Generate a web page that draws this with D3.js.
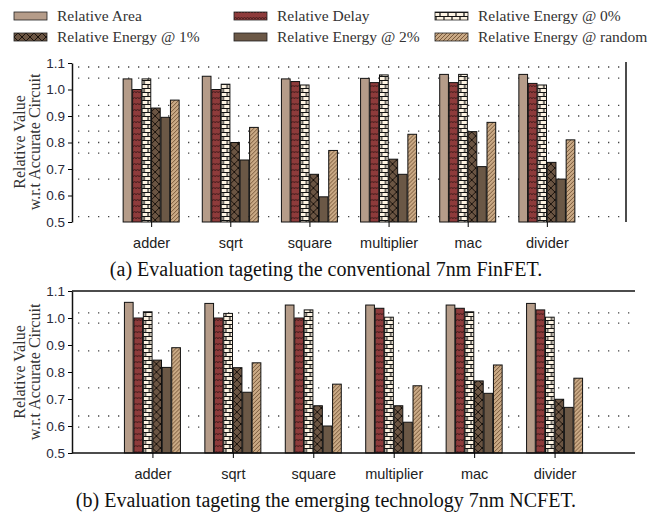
<!DOCTYPE html>
<html>
<head>
<meta charset="utf-8">
<script src="https://cdn.jsdelivr.net/npm/d3@7"></script>
<style>
  body { margin: 0; background: #fff; }
  svg { display: block; }
</style>
</head>
<body>
<svg width="657" height="518"></svg>
<script>
/* global d3 */

var categories = ["adder", "sqrt", "square", "multiplier", "mac", "divider"];
var seriesNames = ["Relative Area", "Relative Delay", "Relative Energy @ 0%",
  "Relative Energy @ 1%", "Relative Energy @ 2%", "Relative Energy @ random"];
var yTicks = [0.5, 0.6, 0.7, 0.8, 0.9, 1.0, 1.1];

// (a) FinFET, one array per category, in series order
var finfetValues = [
  [1.04, 1.00, 1.04, 0.93, 0.895, 0.96],
  [1.05, 1.00, 1.02, 0.80, 0.734, 0.857],
  [1.04, 1.03, 1.017, 0.68, 0.595, 0.77],
  [1.042, 1.026, 1.055, 0.737, 0.68, 0.831],
  [1.057, 1.026, 1.057, 0.841, 0.709, 0.876],
  [1.057, 1.023, 1.017, 0.725, 0.662, 0.81]
];
// (b) NCFET
var ncfetValues = [
  [1.058, 1.00, 1.023, 0.844, 0.817, 0.89],
  [1.054, 1.00, 1.017, 0.816, 0.725, 0.834],
  [1.048, 1.00, 1.03, 0.675, 0.60, 0.755],
  [1.048, 1.036, 1.003, 0.675, 0.614, 0.749],
  [1.048, 1.036, 1.023, 0.767, 0.721, 0.826],
  [1.054, 1.03, 1.003, 0.699, 0.669, 0.777]
];
var finfetDots = [1.085, 1.043, 0.94, 0.9, 0.843, 0.8, 0.76, 0.662, 0.52];
var ncfetDots = [1.019, 0.981, 0.878, 0.741, 0.637, 0.596];

var fills = ["#b59c89", "url(#pDelay)", "url(#pE0)", "url(#pE1)", "#6b5846", "url(#pRand)"];

var svg = d3.select("svg");
var defs = svg.append("defs");

function pat(id, w, h, bg) {
  var p = defs.append("pattern").attr("id", id).attr("patternUnits", "userSpaceOnUse")
    .attr("width", w).attr("height", h);
  p.append("rect").attr("width", w).attr("height", h).attr("fill", bg);
  return p;
}
var pd = pat("pDelay", 6, 6, "#8e3b3b");
pd.append("path").attr("d", "M0,3 L1.5,1 L3,3 L4.5,1 L6,3").attr("stroke", "#4a1e1e").attr("fill", "none").attr("stroke-width", 1);
var p0 = pat("pE0", 8, 8, "#fdf3e2");
p0.append("path").attr("d", "M0,0.5 H8 M0,4.5 H8 M1,0 V4 M5,4 V8").attr("stroke", "#111").attr("stroke-width", 1.2).attr("fill", "none");
var p1 = pat("pE1", 8, 8, "#6b5543");
p1.append("path").attr("d", "M0,0 L8,8 M8,0 L0,8").attr("stroke", "#1a120c").attr("stroke-width", 1).attr("fill", "none");
var pr = pat("pRand", 4, 4, "#c9a985");
pr.append("path").attr("d", "M-1,5 L5,-1 M-1,1 L1,-1 M3,5 L5,3").attr("stroke", "#7a5a3c").attr("stroke-width", 1).attr("fill", "none");

// legend
var legendPos = [[14, 16], [234, 16], [435, 16], [14, 37], [234, 37], [435, 37]];
var leg = svg.append("g").selectAll("g").data(seriesNames).enter().append("g")
  .attr("transform", function(d, i) { return "translate(" + legendPos[i][0] + "," + legendPos[i][1] + ")"; });
leg.append("rect").attr("x", 0).attr("y", -4).attr("width", 33).attr("height", 8)
  .attr("fill", function(d, i) { return fills[i]; }).attr("stroke", "#222").attr("stroke-width", 0.8);
leg.append("text").attr("x", 43).attr("y", 5).text(function(d) { return d; })
  .attr("font-family", "Liberation Serif").attr("font-size", 15.5).attr("fill", "#333");

function drawPanel(values, dots, top, bottom, left, right, framed, caption, labelY, captionY) {
  var g = svg.append("g");
  var w = right - left;
  var y = d3.scaleLinear().domain([0.5, 1.1]).range([bottom, top]);
  var x = d3.scalePoint().domain(categories).range([left + w / 7, left + 6 * w / 7]);
  var xs = d3.scaleBand().domain(d3.range(seriesNames.length)).range([-28, 28]).paddingInner(0.08);

  // dotted grid
  g.append("g").selectAll("line").data(dots).enter().append("line")
    .attr("x1", left + 6).attr("x2", right - 4)
    .attr("y1", function(d) { return y(d); }).attr("y2", function(d) { return y(d); })
    .attr("stroke", "#444").attr("stroke-width", 1.3).attr("stroke-dasharray", "1.3,8.7");

  // bars
  var groups = g.append("g").selectAll("g").data(values).enter().append("g")
    .attr("transform", function(d, i) { return "translate(" + x(categories[i]) + ",0)"; });
  groups.selectAll("rect").data(function(d) { return d; }).enter().append("rect")
    .attr("x", function(d, i) { return xs(i); })
    .attr("width", xs.bandwidth())
    .attr("y", function(d) { return y(d); })
    .attr("height", function(d) { return y(0.5) - y(d); })
    .attr("fill", function(d, i) { return fills[i]; })
    .attr("stroke", "#111").attr("stroke-width", 1);

  // y axis
  var ya = g.append("g").attr("transform", "translate(" + left + ",0)")
    .call(d3.axisLeft(y).tickValues(yTicks).tickFormat(d3.format(".1f")).tickSize(4).tickSizeOuter(0));
  ya.select(".domain").attr("stroke", "#111").attr("stroke-width", 1.5);
  ya.selectAll("text").attr("font-family", "Liberation Sans").attr("font-size", 13.5).attr("fill", "#2a2a3a");

  // x axis
  var xa = g.append("g").attr("transform", "translate(0," + bottom + ")")
    .call(d3.axisBottom(x).tickSize(5).tickSizeOuter(0).tickPadding(11));
  xa.select(".domain").attr("stroke", framed ? "#111" : "none").attr("stroke-width", 1.5)
    .attr("d", "M" + left + ",0H" + right);
  xa.selectAll("text").attr("font-family", "Liberation Sans").attr("font-size", 14.5).attr("fill", "#222");

  if (framed) {
    g.append("line").attr("x1", left).attr("x2", right).attr("y1", top).attr("y2", top)
      .attr("stroke", "#111").attr("stroke-width", 1.5);
  } else {
    g.append("line").attr("x1", right).attr("x2", right).attr("y1", top - 1).attr("y2", bottom)
      .attr("stroke", "#111").attr("stroke-width", 1.5);
  }

  g.append("text").attr("transform", "translate(25," + labelY + ") rotate(-90)")
    .attr("text-anchor", "middle").text("Relative Value")
    .attr("font-family", "Liberation Serif").attr("font-size", 16).attr("fill", "#333");
  g.append("text").attr("transform", "translate(40," + labelY + ") rotate(-90)")
    .attr("text-anchor", "middle").text("w.r.t Accurate Circuit")
    .attr("font-family", "Liberation Serif").attr("font-size", 16).attr("fill", "#333");

  g.append("text").attr("x", 326).attr("y", captionY).attr("text-anchor", "middle").text(caption)
    .attr("font-family", "Liberation Serif").attr("font-size", 20).attr("fill", "#111");
}

drawPanel(finfetValues, finfetDots, 63, 222, 72, 626, false,
  "(a) Evaluation tageting the conventional 7nm FinFET.", 142, 276);
drawPanel(ncfetValues, ncfetDots, 291, 453, 72, 635, true,
  "(b) Evaluation tageting the emerging technology 7nm NCFET.", 372, 507);
</script>
</body>
</html>
